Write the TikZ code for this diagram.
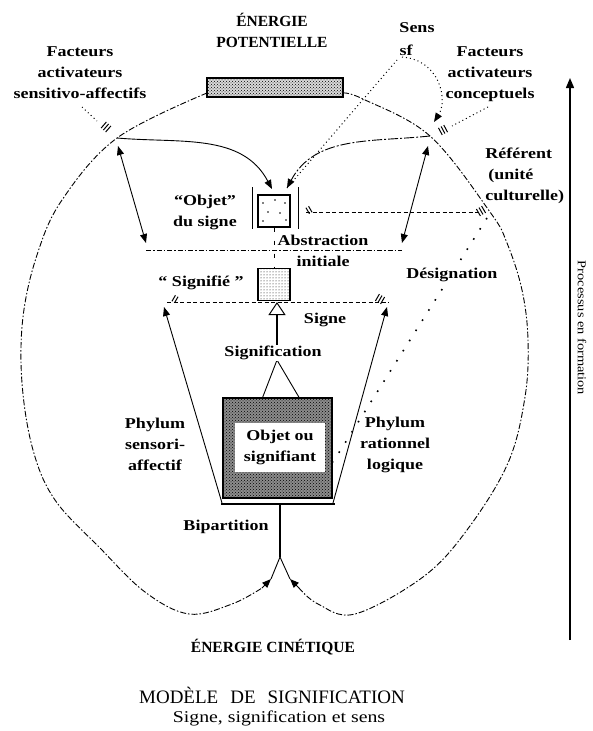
\documentclass[tikz,border=0pt]{standalone}
\usepackage{fontspec}
\setmainfont{Liberation Serif}
\newfontfamily\labfont{Liberation Serif}[FakeStretch=1.2]
\usetikzlibrary{arrows.meta,patterns}
\tikzset{
  lab/.style={font=\labfont\bfseries\fontsize{15}{21}\selectfont, align=center, inner sep=1pt},
  titl/.style={font=\bfseries\fontsize{15.5}{21}\selectfont, align=center, inner sep=1pt},
  bigtitle/.style={font=\fontsize{19}{22}\selectfont, inner sep=1pt},
  subtitle/.style={font=\labfont\fontsize{16.5}{20}\selectfont, inner sep=1pt},
  proclab/.style={font=\labfont\fontsize{12}{14}\selectfont, inner sep=1pt},
  arr/.style={-{Triangle[length=9pt,width=7pt]}},
  darr/.style={{Triangle[length=9pt,width=7pt]}-{Triangle[length=9pt,width=7pt]}},
  outer/.style={line width=0.9pt, dash pattern=on 6pt off 2pt on 1.5pt off 2pt},
  dashdot/.style={line width=0.9pt, dash pattern=on 5pt off 2pt on 1.5pt off 2pt},
  dsh/.style={line width=0.9pt, dash pattern=on 4pt off 2.5pt},
  dotsty/.style={line width=1pt, dash pattern=on 1pt off 3pt},
  sparse/.style={line width=1.6pt, dash pattern=on 1.6pt off 10.4pt},
  hashthree/.pic={\draw[line width=1pt] (-3,-4)--(-3,4) (0,-4)--(0,4) (3,-4)--(3,4);},
  hashtwo/.pic={\draw[line width=1pt] (-1.5,-3.5)--(-1.5,3.5) (1.5,-3.5)--(1.5,3.5);}
}
\begin{document}
\begin{tikzpicture}[x=1pt,y=-1pt,line width=0.9pt]
\useasboundingbox (0,0) rectangle (592,731);

% ---------- key coordinates ----------
\coordinate (barSW) at (207,93);
\coordinate (barSE) at (343,93);
\coordinate (Lnode) at (117,138);
\coordinate (Rnode) at (430,136);
\coordinate (junc) at (280,557);
\coordinate (tipL) at (271,579);
\coordinate (tipR) at (290,579);
\coordinate (preL) at (262,588);
\coordinate (preR) at (299,588);
\coordinate (objTL) at (272,189);
\coordinate (objTR) at (287,188);
\coordinate (sfpt) at (397,60);
\coordinate (sfpt2) at (402,57);
\coordinate (sensTip) at (434,122);
\coordinate (Ltop) at (118,146);
\coordinate (Lbot) at (146,243);
\coordinate (Rtop) at (428,146);
\coordinate (Rbot) at (402,243);
\coordinate (absL) at (146,250);
\coordinate (absR) at (402,250);
\coordinate (refL) at (306,212);
\coordinate (refR) at (478,212);
\coordinate (sgL) at (167,302);
\coordinate (sgR) at (389,302);
\coordinate (phLb) at (222,503);
\coordinate (phLt) at (164,307);
\coordinate (phRb) at (333,503);
\coordinate (phRt) at (387,307);
\coordinate (desA) at (487,218);
\coordinate (desB) at (333,462);
\coordinate (yTop) at (277,360);
\coordinate (yL) at (262,399);
\coordinate (yR) at (300,399);

% ---------- boxes ----------
\node[draw, line width=1.2pt, fill=gray!30, postaction={pattern=crosshatch dots}, minimum width=136pt, minimum height=19pt, inner sep=0pt] (bar) at (275,87.5) {};
\node[draw, line width=1.3pt, minimum size=32pt, inner sep=0pt] (objet) at (274,211) {};
\foreach \p in {(263,203),(275,200),(285,203),(268,212),(280,213),(263,221),(286,220)} \fill \p circle (0.8);
\draw[line width=1.2pt] ([xshift=-5pt,yshift=7pt]objet.north west) -- ([xshift=-5pt,yshift=-1pt]objet.south west);
\draw[line width=1.2pt] ([xshift=8pt,yshift=7pt]objet.north east) -- ([xshift=8pt,yshift=-1pt]objet.south east);
\node[draw, line width=1.3pt, pattern=dots, minimum size=32pt, inner sep=0pt] (signifie) at (274,284.5) {};
\draw[line width=0.9pt, dash pattern=on 4pt off 9pt] (objet.south) -- (signifie.north);

\node[draw, line width=1.6pt, fill=black!45, postaction={pattern=crosshatch dots}, minimum width=109pt, minimum height=100pt, inner sep=0pt] (signifiant) at (277.5,448) {};
\node[fill=white, minimum width=90pt, minimum height=49pt, lab] (sigtext) at (280,447.5) {Objet ou\\signifiant};

% ---------- outer energy loop ----------
\draw[outer] plot[smooth, tension=0.6] coordinates {(barSW) (Lnode) (62,200) (37,255) (23,317) (22,383) (33,450) (55,500) (100,548) (145,592) (189,614) (232,604) (preL)};
\draw[outer] plot[smooth, tension=0.6] coordinates {(barSE) (363,99) (Rnode) (490,212) (507,243) (522,290) (528,340) (525,397) (508,463) (467,530) (423,577) (355,614) (318,604) (preR)};
\draw[arr] (preL) -- (tipL);
\draw[arr] (preR) -- (tipR);
\draw (junc) -- (tipL);
\draw (junc) -- (tipR);
\draw[line width=2.2pt] (280,505) -- (junc);
\draw[line width=1.8pt] (221,504) -- (335,504);

% ---------- upper connectors ----------
\draw[arr] (Lnode) to[out=-5, in=118] (objTL);
\draw[arr, dash pattern=on 10pt off 2pt on 2pt off 2pt] (Rnode) to[out=186, in=62] (objTR);
\draw[dotsty] (objTR) -- (sfpt);
\draw[dotsty, arr] (sfpt2) .. controls (440,60) and (448,100) .. (sensTip);
\draw[darr] (Ltop) -- (Lbot);
\draw[darr] (Rtop) -- (Rbot);
\draw[dashdot] (absL) -- (absR);
\draw[dsh] (refL) -- (refR);
\pic[rotate=30] at (309,210) {hashtwo};
\pic[rotate=30] at (481,211) {hashthree};
\pic[rotate=-41] at (106,127) {hashthree};
\pic[rotate=28] at (443,130) {hashthree};

% ---------- middle ----------
\draw[dsh] (sgL) -- (sgR);
\pic[rotate=-30] at (175,299) {hashtwo};
\pic[rotate=-30] at (380,299) {hashthree};
\draw[arr] (phLb) -- (phLt);
\draw[arr] (phRb) -- (phRt);
\draw[line width=2.2pt, -{Triangle[open, length=13pt, width=17pt, line width=1pt]}] (277,346) -- (277,302);
\draw (yTop) -- (yL);
\draw (yTop) -- (yR);

% ---------- right side ----------
\draw[line width=1.4pt, -{Triangle[length=10pt,width=8pt]}] (570,640) -- (570,78);

% ---------- labels ----------
\node[titl] (ep) at (272,30.5) {ÉNERGIE\\POTENTIELLE};
\node[lab] (fsa) at (80,73) {Facteurs\\activateurs\\sensitivo-affectifs};
\node[lab] (fac) at (490,74) {Facteurs\\activateurs\\conceptuels};
\draw[dotsty] (82,107) -- (97,121);
\draw[dotsty] (488,107) -- (452,126);
\node[lab] (sens) at (417,28) {Sens};
\node[lab] (sf) at (406,50) {sf};
\node[lab] (objlab) at (205,212) {“Objet”\\du signe};
\node[lab] (abs) at (323,250.5) {Abstraction\\initiale};
\node[lab, align=left, anchor=west] (ref) at (484,176) {Référent\\\hspace{3pt}(unité\\culturelle)};
\draw[sparse] (desA) -- (desB);
\node[lab, fill=white] (desig) at (452,275) {Désignation};
\node[lab] (sgfie) at (201,283) {“ Signifié ”};
\node[lab] (signe) at (325,320) {Signe};
\node[lab, fill=white] (signif) at (273,353) {Signification};
\node[lab] (phs) at (155,444.5) {Phylum\\sensori-\\affectif};
\node[lab] (phr) at (395,445) {Phylum\\rationnel\\logique};
\node[lab] (bip) at (226,527) {Bipartition};
\node[titl] (ec) at (273,647) {ÉNERGIE CINÉTIQUE};
\node[bigtitle] (model) at (272,695) {MODÈLE\hspace{12pt}DE\hspace{12pt}SIGNIFICATION};
\node[subtitle] (sub) at (279,718) {Signe, signification et sens};
\node[proclab, rotate=-90] (proc) at (582,328) {Processus en formation};
\end{tikzpicture}
\end{document}
